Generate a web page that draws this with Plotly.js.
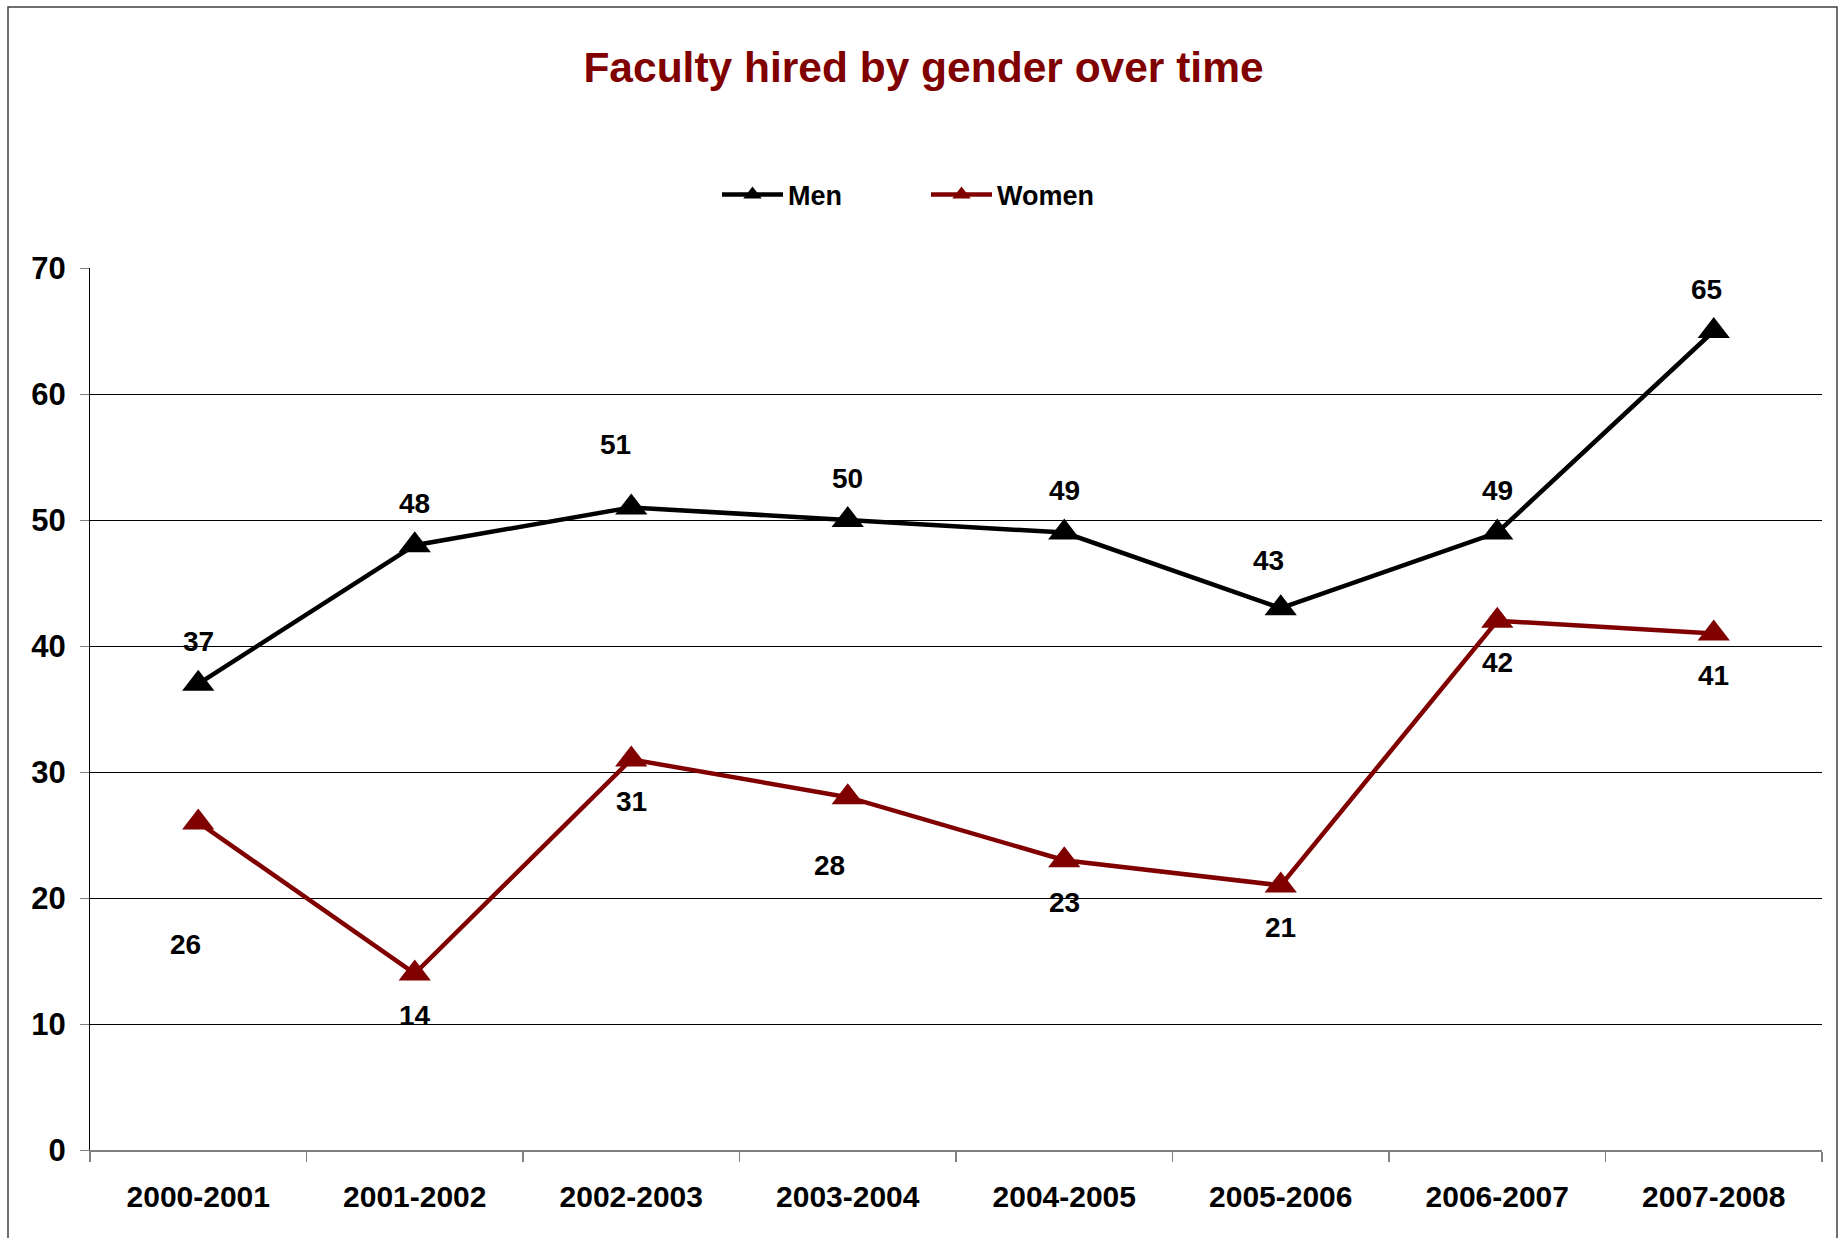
<!DOCTYPE html>
<html>
<head>
<meta charset="utf-8">
<script src="https://cdn.plot.ly/plotly-3.0.1.min.js"></script>
<style>
html, body { margin: 0; padding: 0; background: #ffffff; }
#chart { width: 1847px; height: 1238px; }
</style>
</head>
<body>
<div id="chart"></div>
<script>
// ---- data ----
const categories = ["2000-2001", "2001-2002", "2002-2003", "2003-2004", "2004-2005", "2005-2006", "2006-2007", "2007-2008"];
const men = [37, 48, 51, 50, 49, 43, 49, 65];
const women = [26, 14, 31, 28, 23, 21, 42, 41];
const yTicks = [0, 10, 20, 30, 40, 50, 60, 70];

// ---- label nudges (pixels, style only) ----
const menNudge = { "2002-2003": [-16, 21], "2005-2006": [-12, 6], "2007-2008": [-7, 0] };
const womenNudge = { "2000-2001": [-13, 80], "2003-2004": [-18, 26] };

const FONT = "Liberation Sans, Arial, sans-serif";
const MEN_COLOR = "#000000";
const WOMEN_COLOR = "#800000";

const traces = [
  {
    name: "Men", type: "scatter", mode: "lines+markers",
    x: categories, y: men,
    line: { color: MEN_COLOR, width: 4.5 },
    marker: { symbol: "triangle-up", size: 28, color: MEN_COLOR },
    cliponaxis: false, hoverinfo: "x+y"
  },
  {
    name: "Women", type: "scatter", mode: "lines+markers",
    x: categories, y: women,
    line: { color: WOMEN_COLOR, width: 4.5 },
    marker: { symbol: "triangle-up", size: 28, color: WOMEN_COLOR },
    cliponaxis: false, hoverinfo: "x+y"
  }
];

const BASE_OFF = 42;
const annotations = [];
categories.forEach((c, i) => {
  const mn = menNudge[c] || [0, 0];
  annotations.push({
    x: c, y: men[i], xref: "x", yref: "y", text: String(men[i]), showarrow: false,
    xanchor: "center", yanchor: "middle",
    xshift: mn[0], yshift: BASE_OFF + mn[1],
    font: { family: FONT, size: 28, color: "#000000", weight: "bold" }
  });
  const wn = womenNudge[c] || [0, 0];
  annotations.push({
    x: c, y: women[i], xref: "x", yref: "y", text: String(women[i]), showarrow: false,
    xanchor: "center", yanchor: "middle",
    xshift: wn[0], yshift: -(BASE_OFF + wn[1]),
    font: { family: FONT, size: 28, color: "#000000", weight: "bold" }
  });
});

const layout = {
  width: 1847, height: 1238,
  margin: { l: 90, r: 25, t: 268, b: 88, pad: 0 },
  paper_bgcolor: "#ffffff", plot_bgcolor: "#ffffff",
  font: { family: FONT, color: "#000000" },
  title: {
    text: "Faculty hired by gender over time",
    font: { family: FONT, size: 42.5, color: "#800000", weight: "bold" },
    xref: "container", x: 0.5, xanchor: "center",
    yref: "container", y: 1 - 67 / 1238, yanchor: "middle"
  },
  showlegend: true,
  legend: {
    orientation: "h",
    xref: "paper", x: (717 - 90) / 1732, xanchor: "left",
    yref: "container", y: 1 - 195 / 1238, yanchor: "middle",
    font: { family: FONT, size: 27, color: "#000000", weight: "bold" },
    itemwidth: 61,
    entrywidth: 133, entrywidthmode: "pixels",
    bgcolor: "rgba(0,0,0,0)", borderwidth: 0
  },
  xaxis: {
    type: "category", range: [-0.5, 7.5],
    tickmode: "array", tickvals: categories, ticktext: categories,
    tickson: "boundaries",
    ticks: "outside", ticklen: 10, tickwidth: 1.5, tickcolor: "#808080",
    showline: true, linecolor: "#808080", linewidth: 2,
    showgrid: false, zeroline: false,
    ticklabelstandoff: 19,
    tickfont: { family: FONT, size: 30, color: "#000000", weight: "bold" },
    fixedrange: true
  },
  yaxis: {
    range: [0, 70], tickmode: "array", tickvals: yTicks, ticktext: yTicks.map(String),
    ticks: "outside", ticklen: 9, tickwidth: 1, tickcolor: "#808080",
    showline: true, linecolor: "#000000", linewidth: 1,
    showgrid: true, gridcolor: "#000000", gridwidth: 1,
    zeroline: false,
    ticklabelstandoff: 8,
    tickfont: { family: FONT, size: 31, color: "#000000", weight: "bold" },
    fixedrange: true
  },
  annotations: annotations,
  shapes: [
    {
      type: "rect", xref: "paper", yref: "paper", layer: "below",
      x0: (8 - 90) / 1732, x1: (1837 - 90) / 1732,
      y0: -0.12, y1: (1150 - 7) / 882,
      line: { color: "#404040", width: 1.5 }, fillcolor: "rgba(0,0,0,0)"
    }
  ]
};

Plotly.newPlot("chart", traces, layout, { displayModeBar: false, staticPlot: true });
</script>
</body>
</html>
